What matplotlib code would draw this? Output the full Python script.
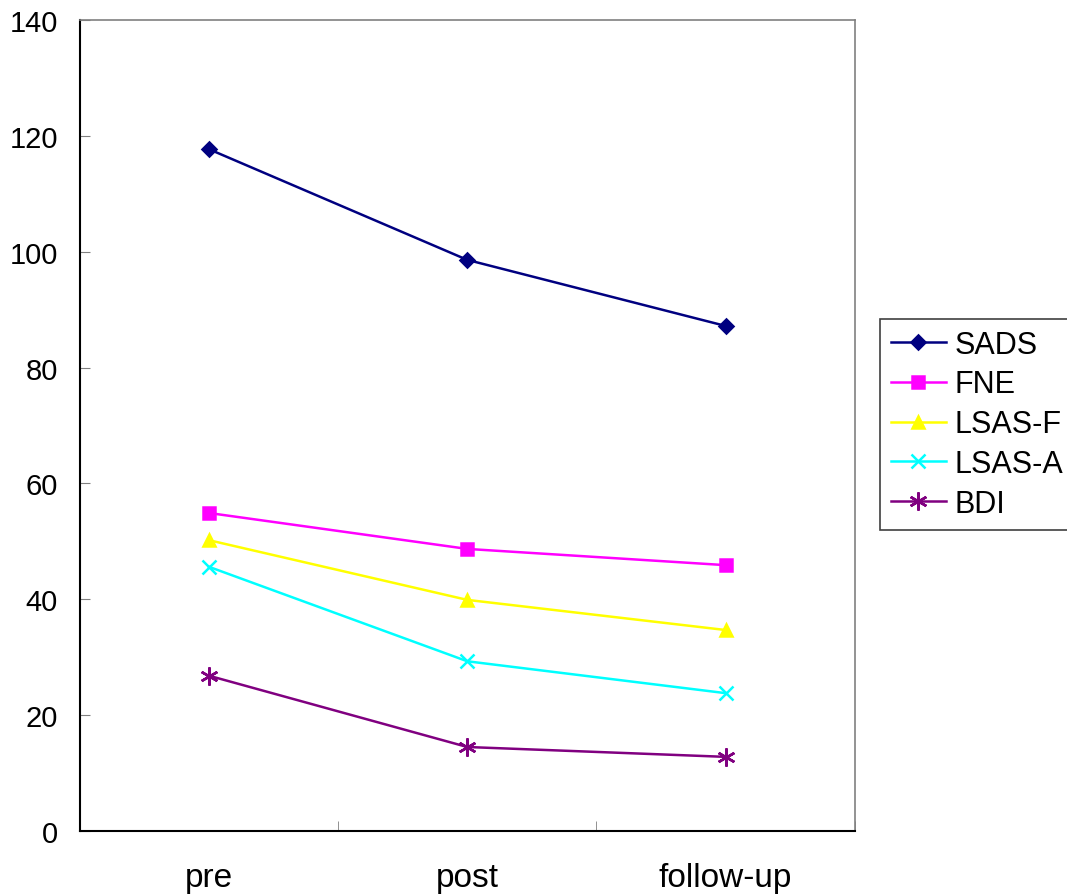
import matplotlib
matplotlib.use("Agg")
import matplotlib.pyplot as plt
from matplotlib.lines import Line2D

plt.rcParams["font.family"] = ["Liberation Sans", "DejaVu Sans"]

# 측정 시점과 척도별 평균 점수
phases = ["pre", "post", "follow-up"]
sads = [117.7, 98.6, 87.2]
fne = [54.9, 48.7, 45.9]
lsas_f = [50.2, 39.9, 34.7]
lsas_a = [45.6, 29.3, 23.8]
bdi = [26.8, 14.5, 12.8]

series = [
    ("SADS", sads, "#000080", "D", 7),
    ("FNE", fne, "#FF00FF", "s", 8),
    ("LSAS-F", lsas_f, "#FFFF00", "^", 9),
    ("LSAS-A", lsas_a, "#00FFFF", "x", 10),
    ("BDI", bdi, "#800080", (6, 2, 0), 13),
]

fig = plt.figure(figsize=(10.67, 8.95), dpi=100)
ax = fig.add_axes([0.075, 0.0704, 0.726, 0.906])

x = range(len(phases))
for name, vals, color, marker, ms in series:
    ax.plot(x, vals, color=color, lw=1.8, marker=marker, ms=ms,
            mew=1.8, label=name)

ax.set_xlim(-0.5, 2.5)
ax.set_ylim(0, 140)
ax.set_yticks(range(0, 141, 20))
ax.set_xticks(list(x))
ax.set_xticklabels(phases)
ax.set_xticks([-0.5, 0.5, 1.5, 2.5], minor=True)
ax.tick_params(axis="x", which="major", length=0, pad=22, labelsize=24)
ax.tick_params(axis="x", which="minor", direction="in", length=7, color="#808080")
ax.tick_params(axis="y", direction="in", length=7, labelsize=21, pad=16,
               color="#808080")

for side in ["left", "bottom"]:
    ax.spines[side].set_color("black")
    ax.spines[side].set_linewidth(1.5)
for side in ["top", "right"]:
    ax.spines[side].set_color("#808080")
    ax.spines[side].set_linewidth(1.2)

leg = fig.legend(loc="upper left",
                 bbox_to_anchor=(880 / 1067, 1 - 320 / 895),
                 fontsize=22, frameon=True, fancybox=False, framealpha=1,
                 edgecolor="#404040", handlelength=1.8, handletextpad=0.3,
                 borderpad=0.35, labelspacing=0.32, borderaxespad=0)
leg.get_frame().set_linewidth(1.2)

fig.savefig("out.png", dpi=100)
